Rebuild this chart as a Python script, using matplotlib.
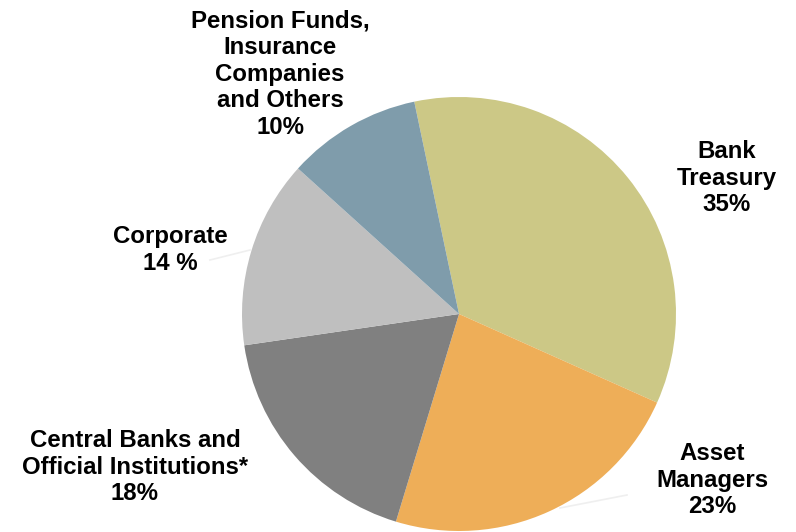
import matplotlib.pyplot as plt

# ---------------------------------------------------
# Data
# ---------------------------------------------------
segments = ["Bank Treasury", "Asset Managers", "Central Banks and Official Institutions*",
            "Corporate", "Pension Funds, Insurance Companies and Others"]
shares = [35, 23, 18, 14, 10]
labels = ["Bank\nTreasury\n35%",
          "Asset\nManagers\n23%",
          "Central Banks and\nOfficial Institutions*\n18%",
          "Corporate\n14 %",
          "Pension Funds,\nInsurance\nCompanies\nand Others\n10%"]
colors = ["#CCC886", "#EEAE58", "#808080", "#BFBFBF", "#7F9CAB"]

# figure laid out in pixel coordinates (y measured from the bottom)
W, H = 796, 532
CENTER = (459, H - 314)
RADIUS = 217
label_pos = [(727, H - 178), (712, H - 480), (135, H - 467), (170, H - 250), (280, H - 74)]

plt.rcParams["font.family"] = ["Liberation Sans", "DejaVu Sans"]

fig = plt.figure(figsize=(W / 100, H / 100), dpi=100)
ax = fig.add_axes([0, 0, 1, 1])

ax.pie(shares, colors=colors, startangle=101.9, counterclock=False,
       center=CENTER, radius=RADIUS, wedgeprops=dict(linewidth=0))

# faint leader lines
ax.plot([210, 250], [H - 260, H - 250], color="#EFEFEF", linewidth=1.2)
ax.plot([560, 627], [H - 508, H - 495], color="#EFEFEF", linewidth=1.2)

for text, (x, y) in zip(labels, label_pos):
    ax.text(x, y, text, ha="center", va="center", multialignment="center",
            fontsize=17.3, fontweight="bold", color="#000000", linespacing=1.2)

ax.set_xlim(0, W)
ax.set_ylim(0, H)
ax.set_aspect("equal")
ax.axis("off")

fig.savefig("out.png", dpi=100, facecolor="white")
